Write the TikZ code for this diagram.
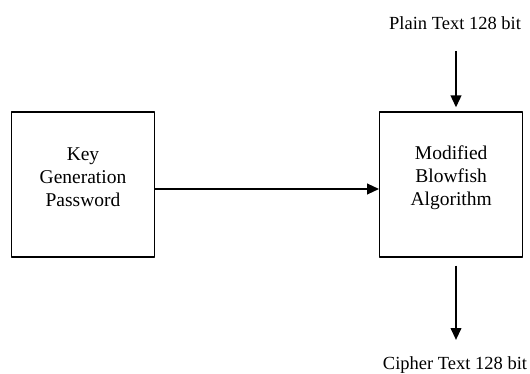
\documentclass[tikz,border=0pt]{standalone}
\usepackage{fontspec}
\setmainfont{Liberation Serif}
\usetikzlibrary{positioning,arrows.meta}
\begin{document}
\begin{tikzpicture}[x=1pt,y=1pt,font=\fontsize{18.5}{23}\selectfont,line join=round,>={Triangle[length=12pt,width=10.5pt]}]
	\tikzset{block/.style={draw,line width=1.2pt,minimum width=143pt,minimum height=145pt,inner sep=0pt},
		caption/.style={align=center,yshift=7pt,font=\fontsize{19.5}{23}\selectfont},
		flow/.style={->,line width=2.3pt}}
	\useasboundingbox (0,0) rectangle (530,-374);
	% the two boxes
	\node[block,label={[caption]center:Key\\Generation\\Password}] (key) at (83,-184.5) {};
	\node[block,right=224pt of key,label={[caption]center:Modified\\Blowfish\\Algorithm}] (algo) {};
	% input and output texts
	\node (plain) at (455,-23) {Plain Text 128 bit};
	\node (cipher) at (455,-365) {Cipher Text 128 bit};
	\coordinate (in) at (456,-51);
	\coordinate (out) at (456,-340);
	% arrows
	\draw[flow] ([yshift=-4.5pt]key.east) -- ([yshift=-4.5pt]algo.west);
	\draw[flow,shorten >=4pt] (in) -- (in |- algo.north);
	\draw[flow,shorten <=8pt] (out |- algo.south) -- (out);
\end{tikzpicture}
\end{document}
